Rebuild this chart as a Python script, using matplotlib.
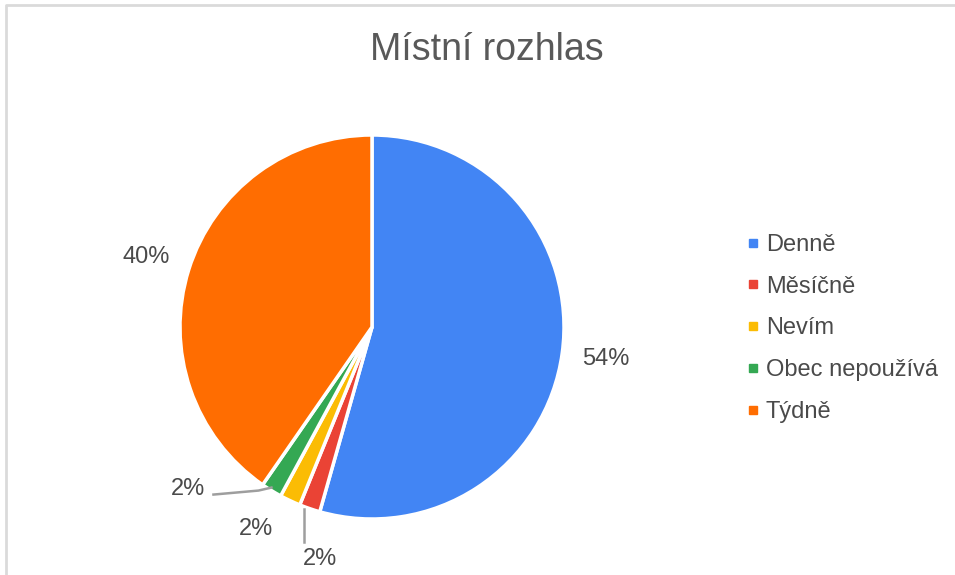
import numpy as np
import matplotlib.pyplot as plt
from matplotlib.lines import Line2D

plt.rcParams['font.family'] = ['Liberation Sans', 'DejaVu Sans']

# data
categories = ['Denně', 'Měsíčně', 'Nevím', 'Obec nepoužívá', 'Týdně']
counts = [31, 1, 1, 1, 23]
colors = ['#4285F4', '#EA4335', '#FBBC04', '#34A853', '#FF6D01']
title = 'Místní rozhlas'

W, H = 955, 575
fig = plt.figure(figsize=(W / 100, H / 100), dpi=100)
ax = fig.add_axes([0, 0, 1, 1])

# light frame (top and left edges visible)
ax.plot([6, 6, W], [0, H - 5, H - 5], color='#dadada', lw=2, solid_capstyle='butt')

cx, cy, R = 372, H - 327, 192
wedges, _ = ax.pie(counts, colors=colors, startangle=90, counterclock=False,
                   center=(cx, cy), radius=R, frame=True,
                   wedgeprops=dict(edgecolor='white', linewidth=2.5))
ax.set_xlim(0, W)
ax.set_ylim(0, H)
ax.set_aspect('equal')
ax.axis('off')

text_color = '#4a4a4a'
line_color = '#9e9e9e'
total = sum(counts)

# label offsets for small slices (label dx, dy from slice edge, leader line points)
small_layout = {
    1: ((10, -50), [(-6, 0), (-6, -33)]),
    2: ((-34, -28), None),
    3: ((-83, 2), [(0, 3), (-13, 0), (-58, -4)]),
}

for i, w in enumerate(wedges):
    pct = 100 * counts[i] / total
    label = f'{pct:.0f}%'
    ang = np.deg2rad((w.theta1 + w.theta2) / 2)
    if i in small_layout:
        ex, ey = cx + R * np.cos(ang), cy + R * np.sin(ang)
        (dx, dy), pts = small_layout[i]
        if pts:
            ax.plot([ex + p[0] for p in pts], [ey + p[1] for p in pts],
                    color=line_color, lw=1.8)
        ax.text(ex + dx, ey + dy, label, ha='center', va='center',
                fontsize=17, color=text_color)
    else:
        r = 1.23 * R
        ax.text(cx + r * np.cos(ang), cy + r * np.sin(ang), label,
                ha='center', va='center', fontsize=17, color=text_color)

fig.text(487 / W, 1 - 50 / H, title, ha='center', va='center',
         fontsize=27, color='#595959')

handles = [Line2D([], [], marker='s', linestyle='', markersize=6,
                  markerfacecolor=c, markeredgecolor=c) for c in colors]
fig.legend(handles, categories, loc='upper left', bbox_to_anchor=(734 / W, 1 - 222 / H),
           frameon=False, fontsize=17, labelcolor=text_color,
           handlelength=0.6, handletextpad=0.25, labelspacing=0.84, borderpad=0)

fig.savefig('out.png', dpi=100)
